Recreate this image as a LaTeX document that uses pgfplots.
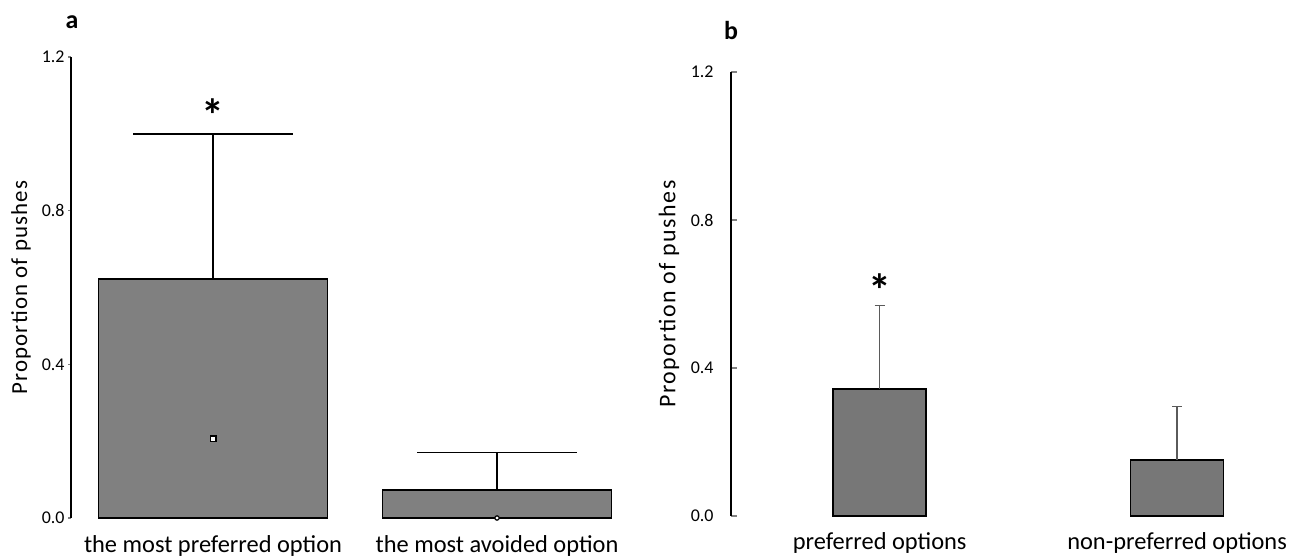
\documentclass[border=0pt]{standalone}
\usepackage{fontspec}
\setmainfont{Carlito}
\usepackage{pgfplots}
\pgfplotsset{compat=1.18}
\definecolor{bara}{HTML}{808080}
\definecolor{barb}{HTML}{777777}
\definecolor{errb}{HTML}{5A5A5A}
\begin{document}
\begin{tikzpicture}[x=1bp,y=1bp]
\useasboundingbox (0,0) rectangle (1303,558);
% ---------------- panel a ----------------
\begin{axis}[
  at={(71bp,40bp)}, anchor=south west,
  scale only axis, width=568bp, height=461bp,
  xmin=-0.5, xmax=1.5, ymin=0, ymax=1.2,
  axis lines*=left,
  x axis line style={draw=none},
  y axis line style={line width=1.6bp},
  xtick={0,1}, xticklabels={the most preferred option, the most avoided option},
  xtick style={draw=none},
  xticklabel style={font=\fontsize{24.5}{28}\selectfont, anchor=center, yshift=-25bp},
  ytick={0,0.4,0.8,1.2},
  ytick style={line width=1.2bp},
  tick align=outside, major tick length=3bp,
  yticklabel style={font=\fontsize{18}{20}\selectfont, /pgf/number format/fixed, /pgf/number format/fixed zerofill, /pgf/number format/precision=1},
  /pgf/number format/assume math mode=true,
  every axis y label/.style={at={(axis description cs:0,0.5)}, xshift=-50bp, rotate=90, anchor=center, font=\fontsize{23}{26}\selectfont\addfontfeature{LetterSpace=5}},
  ylabel={Proportion of pushes},
  clip=false,
]
\addplot[ybar, bar width=229bp, fill=bara, draw=black, line width=1.8bp,
  error bars/.cd, y dir=plus, y explicit, error mark=|,
  error bar style={line width=1.6bp, black},
  error mark options={line width=1.6bp, black, mark size=80bp}]
  coordinates {(0,0.623) +- (0,0.377) (1,0.073) +- (0,0.097)};
\addplot[only marks, mark=square*, mark size=2.8bp, mark options={fill=white, draw=black, line width=1.4bp}]
  coordinates {(0,0.206)};
\addplot[only marks, mark=*, mark size=2.2bp, mark options={fill=white, draw=black, line width=1.2bp}]
  coordinates {(1,0.0)};
\addplot[draw=none, mark=none, nodes near coords={\textbf{*}},
  every node near coord/.style={anchor=center, font=\fontsize{46}{46}\selectfont, black}]
  coordinates {(0,1.05)};
\end{axis}
\node[font=\fontsize{26}{26}\selectfont\bfseries] at (72,536) {a};
% ---------------- panel b ----------------
\begin{axis}[
  at={(731bp,42bp)}, anchor=south west,
  scale only axis, width=565bp, height=444bp,
  xmin=-0.5, xmax=1.4, ymin=0, ymax=1.2,
  axis lines*=left,
  x axis line style={draw=none},
  y axis line style={line width=1.8bp},
  xtick={0,1}, xticklabels={preferred options, non-preferred options},
  xtick style={draw=none},
  xticklabel style={font=\fontsize{24.5}{28}\selectfont, anchor=center, yshift=-27bp},
  ytick={0,0.4,0.8,1.2},
  ytick style={line width=1.4bp},
  tick align=inside, major tick length=6bp,
  yticklabel style={font=\fontsize{18}{20}\selectfont, /pgf/number format/fixed, /pgf/number format/fixed zerofill, /pgf/number format/precision=1, xshift=-14bp},
  /pgf/number format/assume math mode=true,
  every axis y label/.style={at={(axis description cs:0,0.5)}, xshift=-62bp, rotate=90, anchor=center, font=\fontsize{24}{27}\selectfont\addfontfeature{LetterSpace=6}},
  ylabel={Proportion of pushes},
  clip=false,
]
\addplot[ybar, bar width=93bp, fill=barb, draw=black, line width=1.8bp,
  error bars/.cd, y dir=plus, y explicit, error mark=|,
  error bar style={line width=1.3bp, errb},
  error mark options={line width=1.3bp, errb, mark size=5bp}]
  coordinates {(0,0.343) +- (0,0.226) (1,0.151) +- (0,0.144)};
\addplot[draw=none, mark=none, nodes near coords={\textbf{*}},
  every node near coord/.style={anchor=center, font=\fontsize{46}{46}\selectfont, black}]
  coordinates {(0,0.61)};
\end{axis}
\node[font=\fontsize{26}{26}\selectfont\bfseries] at (731,527) {b};
\end{tikzpicture}
\end{document}
